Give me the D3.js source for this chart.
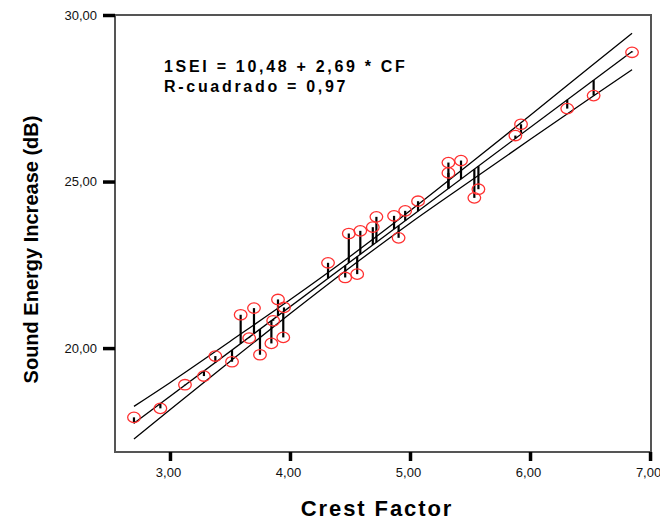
<!DOCTYPE html>
<html>
<head>
<meta charset="utf-8">
<script src="https://cdn.jsdelivr.net/npm/d3@7"></script>
<style>
  html, body { margin: 0; padding: 0; background: #fff; }
  svg { display: block; }
</style>
</head>
<body>
<script>
// ---- data ----
const crestFactor = [2.70, 2.92, 3.125, 3.283, 3.378, 3.517, 3.589, 3.66, 3.70, 3.75, 3.845, 3.86, 3.90, 3.95, 3.944,
  4.317, 4.46, 4.49, 4.56, 4.586, 4.69, 4.72, 4.867, 4.905, 4.96, 5.067,
  5.32, 5.32, 5.425, 5.536, 5.57, 5.878, 5.925, 6.31, 6.53, 6.85];
const soundEnergy = [17.92, 18.19, 18.90, 19.16, 19.76, 19.59, 21.00, 20.30, 21.20, 19.80, 20.14, 20.82, 21.46, 21.22, 20.32,
  22.56, 22.12, 23.44, 22.22, 23.52, 23.63, 23.94, 23.97, 23.31, 24.12, 24.41,
  25.26, 25.57, 25.63, 24.51, 24.77, 26.38, 26.72, 27.19, 27.58, 28.88];
const fitIntercept = 10.48;
const fitSlope = 2.69;
const bandX     = [2.70, 3.00, 3.50, 4.00, 4.50, 5.00, 5.50, 6.00, 6.50, 6.85];
const bandUpper = [18.25, 18.96, 20.20, 21.45, 22.75, 24.12, 25.54, 26.98, 28.44, 29.45];
const bandLower = [17.27, 18.15, 19.60, 21.03, 22.42, 23.75, 25.01, 26.26, 27.50, 28.36];
const xTicks = [3, 4, 5, 6, 7];
const yTicks = [20, 25, 30];
const annotation = ["1SEI = 10,48 + 2,69 * CF", "R-cuadrado = 0,97"];
const xTitle = "Crest Factor";
const yTitle = "Sound Energy Increase (dB)";

// ---- layout ----
const W = 660, H = 520;
const L = 115, R = 651, T = 15, B = 452;
const fmt = v => v.toFixed(2).replace(".", ",");
const FONT = "Liberation Sans, Arial, sans-serif";

const svg = d3.select("body").append("svg").attr("width", W).attr("height", H);

const x = d3.scaleLinear().domain([2.542, 7.008]).range([L, R]);
const y = d3.scaleLinear().domain([16.88, 30]).range([B, T]);

// frame
svg.append("rect").attr("x", L).attr("y", T).attr("width", R - L).attr("height", B - T)
  .attr("fill", "none").attr("stroke", "#555").attr("stroke-width", 2);

// axes
const xAxis = d3.axisBottom(x).tickValues(xTicks).tickFormat(fmt).tickSize(9).tickPadding(7);
const gx = svg.append("g").attr("transform", `translate(0,${B})`).call(xAxis);
gx.select(".domain").remove();
gx.selectAll(".tick line").attr("stroke", "#000").attr("stroke-width", 3.5);
gx.selectAll(".tick text").attr("font-family", FONT).attr("dx", -2)
  .attr("font-size", 13).attr("fill", "#111");

const yAxis = d3.axisLeft(y).tickValues(yTicks).tickFormat(fmt).tickSize(12).tickPadding(6);
const gy = svg.append("g").attr("transform", `translate(${L},0)`).call(yAxis);
gy.select(".domain").remove();
gy.selectAll(".tick line").attr("stroke", "#000").attr("stroke-width", 3.5);
gy.selectAll(".tick text").attr("font-family", FONT)
  .attr("font-size", 13).attr("fill", "#111");

// axis titles
svg.append("text").attr("x", 377).attr("y", 516)
  .attr("text-anchor", "middle").attr("font-family", FONT)
  .attr("font-weight", "bold").attr("font-size", 22).attr("letter-spacing", 1.9)
  .text(xTitle);
svg.append("text").attr("transform", `translate(38,${(T + B) / 2 + 16}) rotate(-90)`)
  .attr("text-anchor", "middle").attr("font-family", FONT)
  .attr("font-weight", "bold").attr("font-size", 20)
  .text(yTitle);

// annotation
annotation.forEach((t, i) => {
  svg.append("text").attr("x", 164).attr("y", 72 + i * 20)
    .attr("font-family", FONT).attr("font-weight", "bold")
    .attr("font-size", 16).attr("letter-spacing", 2.7).attr("fill", "#000").text(t);
});

// confidence bands
const bandLine = d3.line().x(d => x(d[0])).y(d => y(d[1])).curve(d3.curveMonotoneX);
svg.append("path").datum(bandX.map((v, i) => [v, bandUpper[i]])).attr("d", bandLine)
  .attr("fill", "none").attr("stroke", "#000").attr("stroke-width", 1.3);
svg.append("path").datum(bandX.map((v, i) => [v, bandLower[i]])).attr("d", bandLine)
  .attr("fill", "none").attr("stroke", "#000").attr("stroke-width", 1.3);

// fit line
const xMin = d3.min(crestFactor), xMax = d3.max(crestFactor);
const fit = v => fitIntercept + fitSlope * v;
svg.append("line").attr("x1", x(xMin)).attr("y1", y(fit(xMin)))
  .attr("x2", x(xMax)).attr("y2", y(fit(xMax)))
  .attr("stroke", "#000").attr("stroke-width", 1.3);

// residual lines
const pts = crestFactor.map((v, i) => ({ cf: v, sei: soundEnergy[i] }));
svg.append("g").selectAll("line").data(pts).join("line")
  .attr("x1", d => x(d.cf)).attr("x2", d => x(d.cf))
  .attr("y1", d => y(d.sei)).attr("y2", d => y(fit(d.cf)))
  .attr("stroke", "#000").attr("stroke-width", 2.2);

// points
svg.append("g").selectAll("ellipse").data(pts).join("ellipse")
  .attr("cx", d => x(d.cf)).attr("cy", d => y(d.sei))
  .attr("rx", 6.3).attr("ry", 5.2)
  .attr("fill", "none").attr("stroke", "#ff3030").attr("stroke-width", 1.3);
</script>
</body>
</html>
